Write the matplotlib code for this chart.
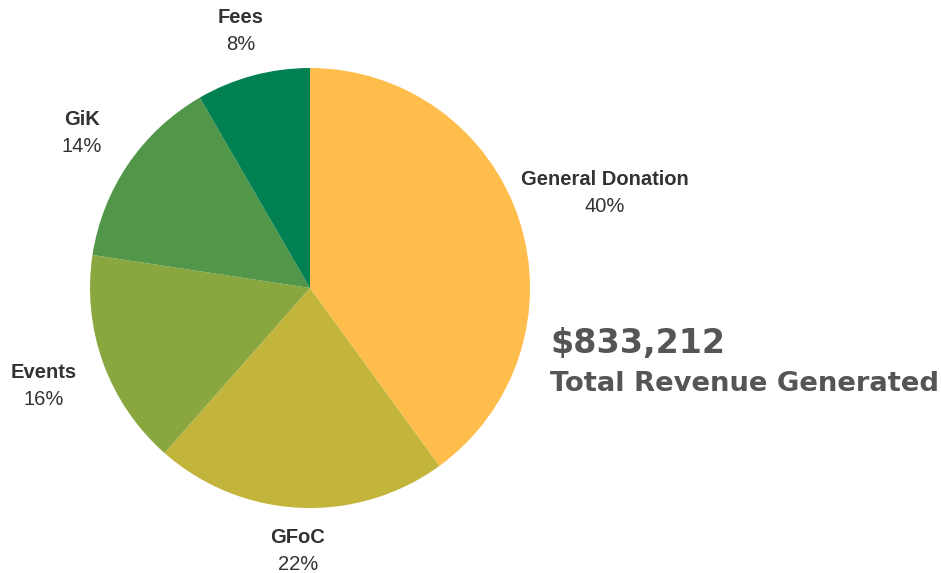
import matplotlib.pyplot as plt
import numpy as np

# revenue breakdown (clockwise from 12 o'clock)
categories = ["General Donation", "GFoC", "Events", "GiK", "Fees"]
shares = [40.0, 21.5, 15.9, 14.25, 8.35]
pct_labels = ["40%", "22%", "16%", "14%", "8%"]
colors = ["#FFBE4C", "#C3B53B", "#8AA73F", "#52964A", "#018051"]
total_label = "$833,212"
subtitle = "Total Revenue Generated"

W, H = 941, 573
fig = plt.figure(figsize=(W / 100, H / 100), dpi=100)
ax = fig.add_axes([0, 0, 1, 1])

cx, cy, R = 310, H - 288, 220
wedges, _ = ax.pie(shares, colors=colors, startangle=90, counterclock=False,
                   center=(cx, cy), radius=R, frame=True,
                   wedgeprops=dict(linewidth=0))
ax.set_xlim(0, W)
ax.set_ylim(0, H)
ax.set_aspect("equal")
ax.axis("off")

# distance of each label from the centre, in radii
label_dist = [1.41, 1.19, 1.29, 1.256, 1.215]
for w, name, pct, d in zip(wedges, categories, pct_labels, label_dist):
    ang = np.deg2rad((w.theta1 + w.theta2) / 2)
    x = cx + d * R * np.cos(ang)
    y = cy + d * R * np.sin(ang)
    ax.text(x, y + 3, name, ha="center", va="bottom", fontsize=14.5,
            fontweight="bold", color="#333333", family="Liberation Sans")
    ax.text(x, y - 5, pct, ha="center", va="top", fontsize=14.5,
            color="#333333", family="Liberation Sans")

ax.text(550, H - 353, total_label, ha="left", va="baseline", fontsize=24,
        fontweight="bold", color="#555555", family="DejaVu Sans")
ax.text(550, H - 391, subtitle, ha="left", va="baseline", fontsize=19.7,
        fontweight="bold", color="#555555", family="DejaVu Sans")

fig.savefig("out.png", dpi=100, facecolor="white")
